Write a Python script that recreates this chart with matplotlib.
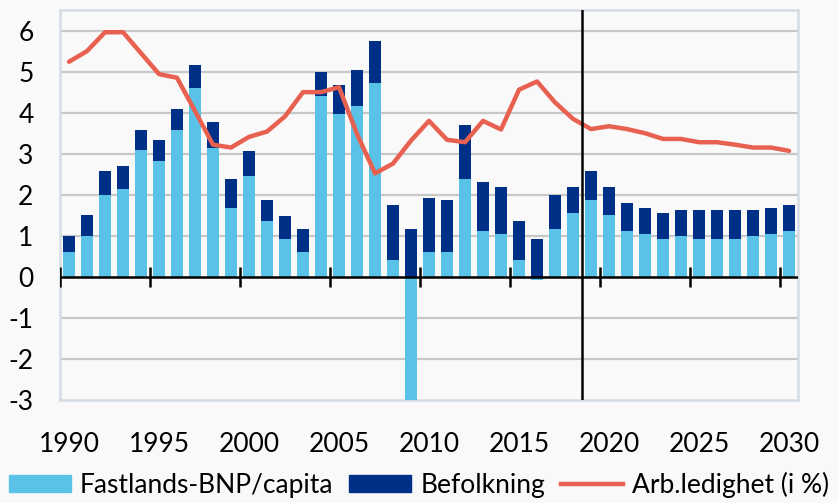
import matplotlib
matplotlib.use("Agg")
import matplotlib.pyplot as plt
import numpy as np
from matplotlib.patches import Patch
from matplotlib.lines import Line2D

plt.rcParams['font.family'] = ['Lato', 'DejaVu Sans']
plt.rcParams['axes.unicode_minus'] = False

years = np.arange(1990, 2031)

# Fastlands-BNP per capita (light blue)
bnp_capita = [0.61, 0.99, 2.00, 2.13, 3.08, 2.83, 3.59, 4.60, 3.15, 1.68,
              2.45, 1.37, 0.93, 0.61, 4.41, 3.97, 4.16, 4.73, 0.41, -3.00,
              0.61, 0.61, 2.38, 1.11, 1.05, 0.41, -0.08, 1.17, 1.56, 1.88,
              1.50, 1.11, 1.05, 0.93, 0.99, 0.93, 0.93, 0.93, 0.99, 1.05,
              1.11]

# Befolkning (dark blue)
befolkning = [0.38, 0.51, 0.58, 0.57, 0.51, 0.50, 0.50, 0.57, 0.62, 0.70,
              0.62, 0.50, 0.56, 0.56, 0.57, 0.70, 0.89, 1.02, 1.34, 1.17,
              1.32, 1.26, 1.33, 1.21, 1.14, 0.96, 0.92, 0.83, 0.63, 0.69,
              0.69, 0.70, 0.63, 0.62, 0.63, 0.69, 0.69, 0.69, 0.63, 0.63,
              0.64]

# Arbeidsledighet i prosent (red line)
ledighet = [5.24, 5.50, 5.96, 5.96, 5.45, 4.94, 4.85, 4.04, 3.22, 3.15,
            3.41, 3.54, 3.91, 4.50, 4.50, 4.62, 3.48, 2.52, 2.76, 3.32,
            3.80, 3.34, 3.28, 3.80, 3.59, 4.56, 4.76, 4.25, 3.85, 3.60,
            3.67, 3.60, 3.50, 3.36, 3.36, 3.28, 3.28, 3.22, 3.15, 3.15,
            3.07]

label_years = np.arange(1990, 2031, 5)
forecast_start = 2018.5

light = '#5bc2e7'
dark = '#002f87'
red = '#e8604f'
bg = '#f9f9f9'

bnp = np.array(bnp_capita)
pop = np.array(befolkning)
pop_bottom = np.where(bnp > 0, bnp, 0)

fig = plt.figure(figsize=(8.38, 5.03), dpi=100, facecolor=bg)
ax = fig.add_axes([0.0716, 0.2048, 0.8807, 0.7752], facecolor=bg)

ax.bar(years, bnp, width=0.67, color=light, zorder=3)
ax.bar(years, pop, bottom=pop_bottom, width=0.67, color=dark, zorder=3)
ax.plot(years, ledighet, color=red, lw=3.2, zorder=4, solid_capstyle='round')

ax.set_xlim(1989.5, 2030.5)
ax.set_ylim(-3, 6.5)
ax.set_yticks(range(-3, 7))
for v in range(-2, 7):
    if v != 0:
        ax.axhline(v, color='#c8c8c8', lw=1.6, zorder=1)
ax.axhline(0, color='black', lw=1.8, zorder=5)

# tick marks crossing the zero line, between categories
bounds = np.arange(1989.5, 2031, 5)
ax.vlines(bounds, -0.25, 0.25, color='black', lw=1.8, zorder=5)
ax.axvline(forecast_start, color='black', lw=1.8, zorder=5)

ax.set_xticks(label_years)
ax.tick_params(axis='x', length=0, pad=23, labelsize=19)
ax.tick_params(axis='y', length=0, pad=19, labelsize=19)

for s in ax.spines.values():
    s.set_color('#d6dce5')
    s.set_linewidth(1.8)

handles = [Patch(color=light), Patch(color=dark),
           Line2D([0], [0], color=red, lw=3.2)]
labels = ['Fastlands-BNP/capita', 'Befolkning', 'Arb.ledighet (i %)']
fig.legend(handles, labels, loc='center', bbox_to_anchor=(0.5, 0.036), ncol=3,
           frameon=False, fontsize=19, handlelength=2.35, handleheight=0.6,
           handletextpad=0.35, columnspacing=0.6)

fig.savefig('out.png', dpi=100, facecolor=bg)
